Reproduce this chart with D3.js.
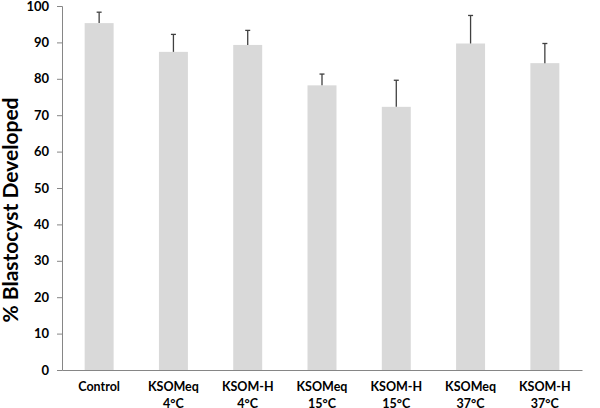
<!DOCTYPE html>
<html><head><meta charset="utf-8">
<script src="https://cdn.jsdelivr.net/npm/d3@7"></script>
<style>body{margin:0;background:#fff}svg{display:block}</style>
</head><body>
<svg id="c" width="600" height="408"></svg>
<script>
const categories = [["Control"],["KSOMeq","4°C"],["KSOM-H","4°C"],["KSOMeq","15°C"],["KSOM-H","15°C"],["KSOMeq","37°C"],["KSOM-H","37°C"]];
const values = [95.3, 87.4, 89.3, 78.2, 72.3, 89.7, 84.3];
const errors = [3.0, 4.8, 4.0, 3.1, 7.3, 7.7, 5.4];
const yTicks = [0,10,20,30,40,50,60,70,80,90,100];

const svg = d3.select("#c");
const m = {l:62, r:18, t:6, b:38};
const W = 600, H = 408;
const x = d3.scaleBand().domain(d3.range(categories.length)).range([m.l, W-m.r]).paddingInner(0.61).paddingOuter(0.305);
const y = d3.scaleLinear().domain([0,100]).range([H-m.b, m.t]);
const font = "Lato, 'Open Sans', sans-serif";

svg.append("g").selectAll("rect").data(values).join("rect")
  .attr("x",(d,i)=>x(i)).attr("width",x.bandwidth())
  .attr("y",d=>y(d)).attr("height",d=>y(0)-y(d)).attr("fill","#d9d9d9");

const eg = svg.append("g").attr("stroke","#404040").attr("stroke-width",1.3);
values.forEach((v,i)=>{
  const cx = x(i)+x.bandwidth()/2;
  eg.append("line").attr("x1",cx).attr("x2",cx).attr("y1",y(v)).attr("y2",y(v+errors[i]));
  eg.append("line").attr("x1",cx-2.5).attr("x2",cx+2.5).attr("y1",y(v+errors[i])).attr("y2",y(v+errors[i]));
});

const ya = svg.append("g").attr("transform",`translate(${m.l},0)`)
  .call(d3.axisLeft(y).tickValues(yTicks).tickSize(5).tickPadding(8));
ya.select(".domain").attr("stroke","#868686");
ya.selectAll(".tick line").attr("stroke","#868686");
ya.selectAll("text").attr("font-family",font).attr("font-weight","bold").attr("font-size",13).attr("fill","#000");

const xa = svg.append("g").attr("transform",`translate(0,${y(0)})`)
  .call(d3.axisBottom(x).tickSize(0).tickFormat(""));
xa.select(".domain").attr("stroke","#868686");

const lg = svg.append("g");
categories.forEach((c,i)=>{
  const cx = x(i)+x.bandwidth()/2;
  c.forEach((t,j)=>{
    lg.append("text").attr("x",cx).attr("y",y(0)+21+j*16.5).attr("text-anchor","middle")
      .attr("font-family",font).attr("font-weight","bold").attr("font-size",12.5).text(t);
  });
});

svg.append("text").attr("transform",`translate(18,210) rotate(-90)`)
  .attr("text-anchor","middle").attr("font-family",font).attr("font-weight","bold")
  .attr("font-size",21).text("% Blastocyst Developed");
</script>
</body></html>
